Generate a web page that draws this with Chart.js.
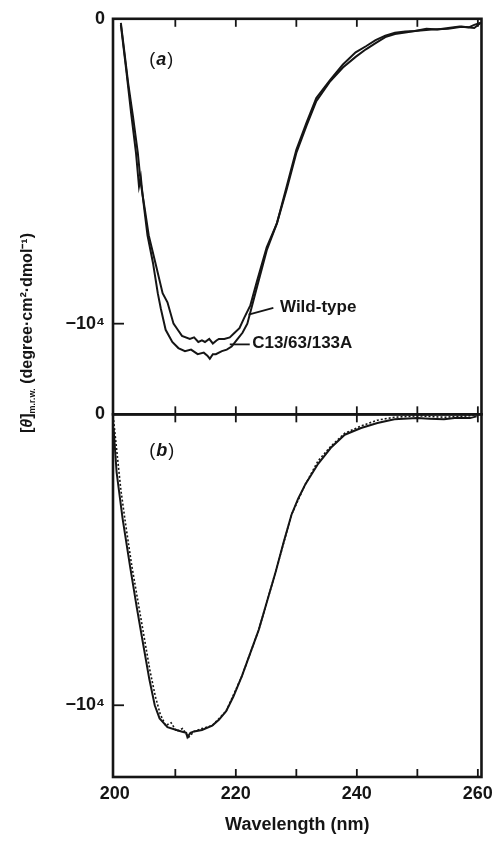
<!DOCTYPE html>
<html>
<head>
<meta charset="utf-8">
<script src="https://cdn.jsdelivr.net/npm/chart.js@4.4.1/dist/chart.umd.min.js"></script>
<style>
  html, body { margin: 0; padding: 0; background: #fff; }
  #wrap { position: relative; width: 499px; height: 844px; }
</style>
</head>
<body>
<div id="wrap"><canvas id="cd" width="499" height="844"></canvas></div>
<script>
// panel (a) - wild-type
const wtNm = [201.0, 201.5, 202.2, 203.0, 203.8, 204.3, 205.0, 205.6, 206.7, 207.9, 208.7, 209.7, 210.4, 211.1, 212.4, 213.1, 213.8, 214.4, 214.9, 215.6, 216.2, 216.8, 217.2, 218.1, 219.0, 219.8, 220.6, 221.4, 222.4, 223.5, 225.1, 226.8, 228.4, 230.0, 231.7, 233.3, 235.6, 237.7, 239.8, 241.5, 243.1, 244.7, 246.3, 248.0, 249.6, 251.5, 253.3, 255.1, 257.0, 258.5, 259.4, 260.5];
const wtVal = [-130, -950, -2100, -3200, -4400, -5400, -6300, -7100, -8000, -9000, -9300, -10000, -10200, -10400, -10500, -10450, -10600, -10550, -10600, -10500, -10650, -10550, -10500, -10500, -10450, -10300, -10150, -9800, -9400, -8600, -7500, -6700, -5500, -4300, -3400, -2600, -2000, -1500, -1100, -900, -700, -550, -460, -420, -400, -330, -350, -300, -250, -280, -200, -130];

// panel (a) - C13/63/133A
const mutNm = [201.0, 201.9, 202.7, 203.5, 204.0, 204.3, 204.6, 205.4, 206.3, 207.1, 207.6, 208.4, 209.5, 210.5, 211.6, 212.6, 213.7, 214.7, 215.3, 215.7, 216.2, 216.7, 217.7, 218.5, 219.3, 220.3, 221.1, 221.9, 223.5, 225.1, 226.8, 228.4, 230.0, 231.7, 233.3, 235.6, 237.7, 239.8, 241.5, 243.1, 244.7, 246.3, 248.0, 249.6, 252.4, 255.1, 257.3, 259.4, 260.5];
const mutVal = [-200, -1700, -3100, -4400, -5500, -5200, -5800, -7100, -8000, -9000, -9500, -10200, -10600, -10800, -10900, -10850, -11000, -10950, -11050, -11150, -11000, -11000, -10900, -10850, -10750, -10500, -10300, -10000, -8800, -7600, -6700, -5600, -4400, -3500, -2700, -2050, -1600, -1250, -1000, -800, -600, -500, -450, -400, -350, -330, -260, -300, -130];

// panel (b) - solid trace
const bSolidNm = [199.8, 200.3, 201.3, 202.5, 203.6, 204.6, 205.7, 206.6, 207.4, 208.7, 210.2, 211.0, 211.8, 212.0, 212.5, 213.1, 214.4, 216.1, 217.2, 218.4, 219.6, 221.0, 222.4, 223.8, 225.2, 226.6, 227.9, 229.2, 230.3, 231.5, 233.6, 235.7, 238.0, 240.7, 243.4, 246.2, 250.0, 252.0, 254.4, 256.5, 258.7, 259.8];
const bSolidVal = [-500, -2000, -3600, -5200, -6600, -7800, -9100, -10000, -10450, -10750, -10850, -10900, -10950, -11100, -10950, -10900, -10850, -10700, -10500, -10200, -9700, -9000, -8200, -7400, -6400, -5400, -4400, -3450, -2900, -2400, -1700, -1150, -700, -470, -300, -170, -130, -150, -170, -120, -130, -70];

// panel (b) - dotted trace
const bDotNm = [199.8, 200.4, 201.0, 201.8, 202.8, 203.8, 204.8, 205.8, 206.7, 207.5, 208.4, 209.3, 210.2, 211.2, 212.2, 213.1, 214.4, 216.1, 218.4, 221.0, 223.8, 226.6, 229.2, 231.5, 233.6, 235.7, 238.0, 240.7, 243.4, 246.2, 250.0, 254.4, 258.7, 259.8];
const bDotVal = [-200, -1400, -2600, -3800, -5200, -6400, -7600, -8800, -9700, -10300, -10700, -10600, -10900, -10800, -11100, -10900, -10800, -10700, -10200, -9000, -7400, -5400, -3450, -2400, -1600, -1100, -650, -400, -200, -100, -50, -100, -50, 0];

const xLabelTicks = [200, 220, 240, 260];
const xMarkTicks = [210, 220, 230, 240, 250, 260];
const yLabelTicks = [0, -10000];

const ink = '#151515';
const fontFam = '"Liberation Sans", Arial, sans-serif';

function toPoints(xs, ys) {
    return xs.map(function (x, i) {
        return { x: x, y: ys[i] };
    });
}

// text placed in data coordinates
const notes = [
    { text: 'Wild-type', nm: 227.3, val: -9450, axis: 'ya', from: [222.1, -9700], to: [226.2, -9480] },
    { text: 'C13/63/133A', nm: 222.7, val: -10650, axis: 'ya', from: [219.0, -10680], to: [222.3, -10680] }
];
const panelTags = [
    { letter: 'a', nm: 205.7, val: -1350, axis: 'ya' },
    { letter: 'b', nm: 205.7, val: -1270, axis: 'yb' }
];

function line(ctx, x1, y1, x2, y2) {
    ctx.beginPath();
    ctx.moveTo(x1, y1);
    ctx.lineTo(x2, y2);
    ctx.stroke();
}

const framePlugin = {
    id: 'frame',
    afterDraw(chart) {
        const ctx = chart.ctx;
        const x = chart.scales.x;
        ctx.save();
        ctx.strokeStyle = ink;
        ctx.fillStyle = ink;

        ['ya', 'yb'].forEach(function (id) {
            const y = chart.scales[id];
            ctx.lineWidth = 2.6;
            ctx.strokeRect(x.left, y.top, x.right - x.left, y.bottom - y.top);
            ctx.lineWidth = 1.8;
            xMarkTicks.forEach(function (v) {
                const px = x.getPixelForValue(v);
                line(ctx, px, y.top, px, y.top + 8);
                line(ctx, px, y.bottom, px, y.bottom - 8);
            });
            const py = y.getPixelForValue(-10000);
            line(ctx, x.left, py, x.left + 11, py);
        });

        // panel tags (a), (b)
        panelTags.forEach(function (t) {
            let px = x.getPixelForValue(t.nm);
            const py = chart.scales[t.axis].getPixelForValue(t.val);
            ctx.textBaseline = 'middle';
            ctx.textAlign = 'left';
            ctx.font = '18px ' + fontFam;
            ctx.fillText('(', px, py);
            px += ctx.measureText('(').width + 1;
            ctx.font = 'italic bold 18px ' + fontFam;
            ctx.fillText(t.letter, px, py);
            px += ctx.measureText(t.letter).width + 1;
            ctx.font = '18px ' + fontFam;
            ctx.fillText(')', px, py);
        });

        // curve labels with pointer lines
        ctx.lineWidth = 1.8;
        notes.forEach(function (n) {
            const ys = chart.scales[n.axis];
            line(ctx, x.getPixelForValue(n.from[0]), ys.getPixelForValue(n.from[1]),
                x.getPixelForValue(n.to[0]), ys.getPixelForValue(n.to[1]));
            ctx.font = 'bold 17px ' + fontFam;
            ctx.textAlign = 'left';
            ctx.textBaseline = 'middle';
            ctx.fillText(n.text, x.getPixelForValue(n.nm), ys.getPixelForValue(n.val));
        });

        // y axis title: [θ]m.r.w. (degree·cm²·dmol⁻¹)
        const parts = [
            { s: '[', f: 'bold 16px ' + fontFam, dy: 0 },
            { s: 'θ', f: 'italic bold 16px ' + fontFam, dy: 0 },
            { s: ']', f: 'bold 16px ' + fontFam, dy: 0 },
            { s: 'm.r.w.', f: 'bold 9px ' + fontFam, dy: 5 },
            { s: ' (degree·cm²·dmol⁻¹)', f: 'bold 16px ' + fontFam, dy: 0 }
        ];
        let total = 0;
        parts.forEach(function (p) {
            ctx.font = p.f;
            p.w = ctx.measureText(p.s).width;
            total += p.w;
        });
        ctx.translate(28, 333);
        ctx.rotate(-Math.PI / 2);
        ctx.textAlign = 'left';
        ctx.textBaseline = 'middle';
        let cx = -total / 2;
        parts.forEach(function (p) {
            ctx.font = p.f;
            ctx.fillText(p.s, cx, p.dy);
            cx += p.w;
        });
        ctx.restore();
    }
};

Chart.defaults.font.family = fontFam;
Chart.defaults.color = ink;

const lineBase = {
    borderColor: ink,
    borderWidth: 2,
    pointRadius: 0,
    tension: 0,
    fill: false
};

const yTickOpts = {
    padding: 8,
    font: { size: 18, weight: 'bold' },
    callback: function (v) { return v === 0 ? '0' : '\u221210\u2074'; }
};

const config = {
    type: 'line',
    data: {
        datasets: [
            Object.assign({ label: 'Wild-type', data: toPoints(wtNm, wtVal), yAxisID: 'ya' }, lineBase),
            Object.assign({ label: 'C13/63/133A', data: toPoints(mutNm, mutVal), yAxisID: 'ya' }, lineBase),
            Object.assign({ label: 'b solid', data: toPoints(bSolidNm, bSolidVal), yAxisID: 'yb' }, lineBase),
            Object.assign({ label: 'b dotted', data: toPoints(bDotNm, bDotVal), yAxisID: 'yb' }, lineBase,
                { borderWidth: 1.6, borderDash: [2, 2] })
        ]
    },
    plugins: [framePlugin],
    options: {
        responsive: false,
        animation: false,
        layout: { padding: { top: 16, right: 13, left: 0, bottom: 0 } },
        plugins: {
            legend: { display: false },
            tooltip: { enabled: false }
        },
        scales: {
            x: {
                type: 'linear',
                min: 199.7,
                max: 260.6,
                grid: { display: false, drawTicks: false },
                border: { display: false },
                afterBuildTicks: function (scale) {
                    scale.ticks = xLabelTicks.map(function (v) { return { value: v }; });
                },
                afterFit: function (scale) { scale.height = 67; },
                ticks: {
                    padding: 6,
                    maxRotation: 0,
                    font: { size: 18, weight: 'bold' },
                    callback: function (v) { return String(v); }
                },
                title: {
                    display: true,
                    text: 'Wavelength (nm)',
                    font: { size: 18, weight: 'bold' },
                    padding: { top: 6, bottom: 8 }
                }
            },
            ya: {
                type: 'linear',
                position: 'left',
                stack: 'panels',
                stackWeight: 397,
                weight: 2,
                min: -12974,
                max: 0,
                grid: { display: false, drawTicks: false },
                border: { display: false },
                afterBuildTicks: function (scale) {
                    scale.ticks = yLabelTicks.map(function (v) { return { value: v }; });
                },
                afterFit: function (scale) { scale.width = 113; },
                ticks: yTickOpts
            },
            yb: {
                type: 'linear',
                position: 'left',
                stack: 'panels',
                stackWeight: 364,
                weight: 1,
                min: -12466,
                max: 0,
                grid: { display: false, drawTicks: false },
                border: { display: false },
                afterBuildTicks: function (scale) {
                    scale.ticks = yLabelTicks.map(function (v) { return { value: v }; });
                },
                afterFit: function (scale) { scale.width = 113; },
                ticks: yTickOpts
            }
        }
    }
};

const cdChart = new Chart(document.getElementById('cd'), config);
</script>
</body>
</html>
